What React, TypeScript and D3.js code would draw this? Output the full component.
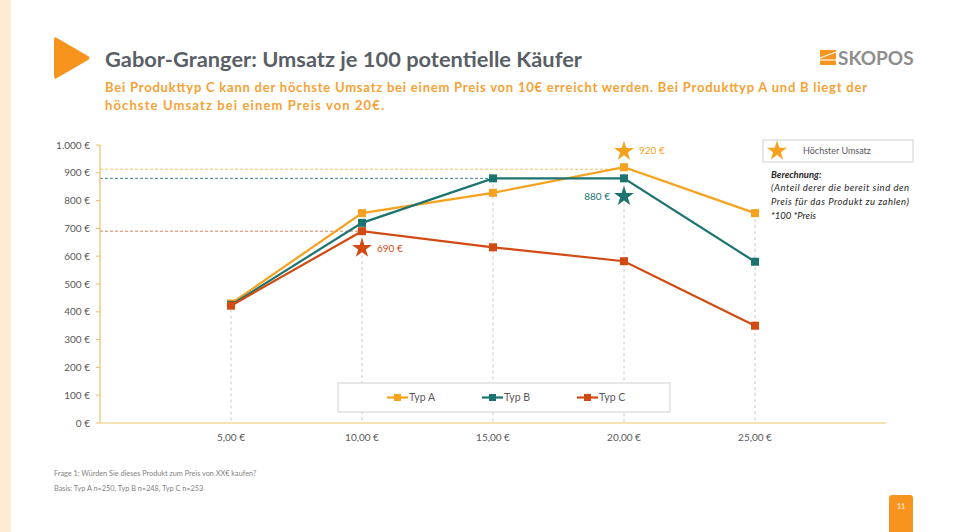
import React from "react";
import * as d3 from "d3";

const prices = [5, 10, 15, 20, 25];
const typA = [430, 755, 828, 920, 755];
const typB = [425, 720, 880, 880, 580];
const typC = [422, 690, 632, 582, 350];
const yTicks = [0, 100, 200, 300, 400, 500, 600, 700, 800, 900, 1000];

const series = [
  { name: "Typ A", values: typA, color: "#F7A21E" },
  { name: "Typ B", values: typB, color: "#1B7470" },
  { name: "Typ C", values: typC, color: "#D24A12" },
];

const fmtY = (v: number) => (v >= 1000 ? d3.format(",")(v).replace(",", ".") : String(v)) + " €";
const fmtX = (v: number) => v.toFixed(2).replace(".", ",") + " €";
const fontTxt = "Lato, 'Open Sans', sans-serif";

const starPath = d3.symbol(d3.symbolStar, 125)() as string;

export default function App() {
  const x = d3.scaleLinear().domain([0, 30]).range([100, 886]);
  const y = d3.scaleLinear().domain([0, 1000]).range([423, 145]);
  const line = d3
    .line<number>()
    .x((_, i) => x(prices[i]))
    .y((d) => y(d));

  // höchster Umsatz je Typ
  const maxima = series.map((s) => {
    const m = d3.max(s.values) as number;
    const i = s.values.indexOf(m);
    return { ...s, m, i };
  });
  const colMax = prices.map((_, i) => d3.max(series, (s) => s.values[i]) as number);

  return (
    <div style={{ position: "absolute", left: 0, top: 0 }}>
      <svg width={953} height={532} style={{ display: "block", background: "#fff" }}>
        <rect x={0} y={0} width={11} height={532} fill="#FDEBD3" />
        <path d="M57,38 Q54,36 54,40 L54,76 Q54,80 57,78 L88,60 Q91,58 88,56 Z" fill="#F7941D" />
        <text x={105} y={67} fontFamily={fontTxt} fontSize={20} fontWeight={700} fill="#5A5F66" textLength={477} lengthAdjust="spacingAndGlyphs">
          Gabor-Granger: Umsatz je 100 potentielle Käufer
        </text>
        <text x={105} y={92} fontFamily={fontTxt} fontSize={13} fontWeight={700} fill="#F5A235" textLength={762}>
          Bei Produkttyp C kann der höchste Umsatz bei einem Preis von 10€ erreicht werden. Bei Produkttyp A und B liegt der
        </text>
        <text x={105} y={110} fontFamily={fontTxt} fontSize={13} fontWeight={700} fill="#F5A235" textLength={279}>
          höchste Umsatz bei einem Preis von 20€.
        </text>
        {/* logo */}
        <rect x={820} y={50} width={16} height={15} fill="#F7941D" />
        <path d="M820,58 L836,52" stroke="#fff" strokeWidth={1.2} />
        <path d="M820,60 L836,60" stroke="#fff" strokeWidth={1.2} />
        <text x={838} y={65} fontFamily={fontTxt} fontSize={19} fontWeight={700} fill="#8E8E8E">
          SKOPOS
        </text>

        {/* vertical guides */}
        {prices.map((p, i) => (
          <line key={p} x1={x(p)} x2={x(p)} y1={y(colMax[i])} y2={y(0)} stroke="#C8C8C8" strokeDasharray="3,3" />
        ))}
        {/* horizontal guides to maxima */}
        {maxima.map((s) => (
          <line
            key={s.name}
            x1={x(0)}
            x2={x(prices[s.i])}
            y1={y(s.m) + (s.name === "Typ A" ? 2 : 0)}
            y2={y(s.m) + (s.name === "Typ A" ? 2 : 0)}
            stroke={s.name === "Typ A" ? "#F4C16A" : s.name === "Typ B" ? "#3E8480" : "#D88060"}
            strokeDasharray="3,2"
          />
        ))}

        {/* axes */}
        <line x1={x(0)} x2={x(0)} y1={y(1000)} y2={y(0)} stroke="#EBBE6A" strokeWidth={1.2} />
        <line x1={x(0)} x2={x(30)} y1={y(0)} y2={y(0)} stroke="#F0D9A2" strokeWidth={1.5} />
        {yTicks.map((t) => (
          <g key={t}>
            <line x1={x(0) - 4} x2={x(0)} y1={y(t)} y2={y(t)} stroke="#EBBE6A" />
            <text x={x(0) - 10} y={y(t) + 3.5} textAnchor="end" fontFamily={fontTxt} fontSize={10} fill="#595959">
              {fmtY(t)}
            </text>
          </g>
        ))}
        {prices.map((p) => (
          <text key={p} x={x(p)} y={y(0) + 18} textAnchor="middle" fontFamily={fontTxt} fontSize={10} fill="#595959">
            {fmtX(p)}
          </text>
        ))}

        {/* lines */}
        {series.map((s) => (
          <g key={s.name}>
            <path d={line(s.values) as string} fill="none" stroke={s.color} strokeWidth={2.2} />
            {s.values.map((v, i) => (
              <rect key={i} x={x(prices[i]) - 4} y={y(v) - 4} width={8} height={8} fill={s.color} />
            ))}
          </g>
        ))}

        {/* stars */}
        <g transform={`translate(${x(20)},${y(920) - 16})`}>
          <path d={starPath} fill="#F7A21E" />
        </g>
        <text x={x(20) + 15} y={y(920) - 13} fontFamily={fontTxt} fontSize={10} fill="#F7A21E">
          920 €
        </text>
        <g transform={`translate(${x(20)},${y(880) + 18})`}>
          <path d={starPath} fill="#1B7470" />
        </g>
        <text x={x(20) - 14} y={y(880) + 22} textAnchor="end" fontFamily={fontTxt} fontSize={10} fill="#1B7470">
          880 €
        </text>
        <g transform={`translate(${x(10)},${y(690) + 17})`}>
          <path d={starPath} fill="#D24A12" />
        </g>
        <text x={x(10) + 15} y={y(690) + 21} fontFamily={fontTxt} fontSize={10} fill="#D24A12">
          690 €
        </text>

        {/* legend */}
        <rect x={338} y={383} width={332} height={29} fill="#fff" stroke="#D0D0D0" />
        {series.map((s, i) => {
          const lx = 387 + i * 95;
          return (
            <g key={s.name}>
              <line x1={lx} x2={lx + 21} y1={397.5} y2={397.5} stroke={s.color} strokeWidth={2.2} />
              <rect x={lx + 7} y={394} width={7} height={7} fill={s.color} />
              <text x={lx + 22} y={401} fontFamily={fontTxt} fontSize={10.5} fill="#595959">
                {s.name}
              </text>
            </g>
          );
        })}

        {/* right legend */}
        <rect x={763} y={140} width={150} height={22} fill="#fff" stroke="#D0D0D0" />
        <g transform="translate(777,151)">
          <path d={starPath} fill="#F7A21E" />
        </g>
        <text x={803} y={154} fontFamily={fontTxt} fontSize={9} fill="#595959">
          Höchster Umsatz
        </text>
        <text x={771} y={178} fontFamily={fontTxt} fontSize={9.5} fontWeight={700} fontStyle="italic" fill="#262626">
          Berechnung:
        </text>
        {["(Anteil derer die bereit sind den", "Preis für das Produkt zu zahlen)", "*100  *Preis"].map((t, i) => (
          <text key={i} x={771} y={191 + i * 14} fontFamily={fontTxt} fontSize={9.5} fontStyle="italic" fill="#262626"
            textLength={i === 0 ? 138 : i === 1 ? 138 : undefined}>
            {t}
          </text>
        ))}

        {/* footer */}
        <text x={54} y={476} fontFamily={fontTxt} fontSize={7.3} fill="#7F7F7F">
          Frage 1: Würden Sie dieses Produkt zum Preis von XX€ kaufen?
        </text>
        <text x={54} y={491} fontFamily={fontTxt} fontSize={7.3} fill="#7F7F7F">
          Basis: Typ A n=250, Typ B n=248, Typ C n=253
        </text>
        <rect x={889} y={495} width={24} height={40} rx={3} fill="#F7941D" />
        <text x={901} y={509} textAnchor="middle" fontFamily={fontTxt} fontSize={7} fill="#fff">
          11
        </text>
      </svg>
    </div>
  );
}
